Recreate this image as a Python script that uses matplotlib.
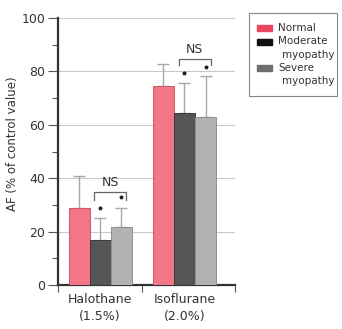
import matplotlib
matplotlib.use("Agg")
import matplotlib.pyplot as plt
import matplotlib.patches as mpatches
import numpy as np

# data
groups = ["Halothane\n(1.5%)", "Isoflurane\n(2.0%)"]
series = ["Normal", ["Moderate", "myopathy"], ["Severe", "myopathy"]]
normal = [28.7, 74.6]
moderate = [16.9, 64.4]
severe = [21.7, 63.0]
normal_err = [12.3, 8.1]
moderate_err = [8.3, 11.2]
severe_err = [7.3, 15.4]

BAR_COLORS = ["#f27686", "#555555", "#b2b2b2"]
BAR_EDGES = ["#c85866", "#3a3a3a", "#8e8e8e"]
LEG_COLORS = ["#e8465e", "#111111", "#6e6e6e"]
GRID = "#c8c8c8"
TEXT = "#333333"

W, H = 342, 329
fig = plt.figure(figsize=(W / 100, H / 100), dpi=100)
ax = fig.add_axes([58 / W, 1 - 285 / H, 177 / W, 267 / H])

x = np.arange(len(groups))
w = 0.25
vals = [normal, moderate, severe]
errs = [normal_err, moderate_err, severe_err]
for i in range(3):
    xs = x + (i - 1) * w
    ax.bar(xs, vals[i], width=w, color=BAR_COLORS[i], edgecolor=BAR_EDGES[i],
           linewidth=0.7, zorder=3)
    ax.errorbar(xs, vals[i], yerr=[np.zeros(2), errs[i]], fmt="none",
                ecolor="#a8a8a8", elinewidth=1.0, capsize=4, capthick=1.0,
                zorder=2)

# NS brackets and asterisks
for gi, (ytop, ylow) in enumerate([(35.0, 32.0), (84.6, 82.4)]):
    x0 = gi - 0.07
    x1 = gi + w + 0.06
    ax.plot([x0, x0, x1, x1], [ylow, ytop, ytop, ylow], color="#666666",
            lw=0.9, zorder=4, clip_on=False)
    ax.text((x0 + x1) / 2, ytop + 1.0, "NS", ha="center", va="bottom",
            fontsize=9, color=TEXT)
star_pos = [(0, 28.7, 33.0), (1, 79.4, 81.7)]
for gi, ym, ys in star_pos:
    ax.plot([gi, gi + w], [ym, ys], ls="none", marker="*", ms=2.6,
            color="#222222", zorder=5)

ax.set_ylim(0, 100)
ax.set_xlim(-0.5, 1.6)
ax.set_yticks(np.arange(0, 101, 20))
ax.set_yticks(np.arange(10, 100, 20), minor=True)
ax.tick_params(axis="y", which="major", length=7, width=0.8, color="#555555",
               labelsize=9, labelcolor=TEXT, pad=2)
ax.tick_params(axis="y", which="minor", length=4, width=0.8, color="#555555")
ax.set_xticks(x)
ax.set_xticklabels(groups, fontsize=9, color=TEXT, linespacing=1.35)
ax.tick_params(axis="x", which="major", length=0, pad=6)
ax.set_xticks([-0.5, 0.5, 1.6], minor=True)
ax.tick_params(axis="x", which="minor", length=5, width=0.8, color="#555555",
               direction="out")

ax.yaxis.grid(True, color=GRID, lw=0.8, zorder=0)
ax.set_axisbelow(True)
for s in ["top", "right"]:
    ax.spines[s].set_visible(False)
for s in ["left", "bottom"]:
    ax.spines[s].set_linewidth(1.6)
    ax.spines[s].set_color("#333333")

ax.set_ylabel("AF (% of control value)", fontsize=8.5, color=TEXT)
ax.yaxis.set_label_coords(-0.22, 0.53)

# legend drawn by hand to get the indented second lines
def fx(px):
    return px / W

def fy(py):
    return 1 - py / H

fig.patches.append(mpatches.Rectangle((fx(249), fy(96)), fx(88), 83 / H,
                                      transform=fig.transFigure, fill=False,
                                      edgecolor="#888888", lw=0.8))
rows = [28, 41.5, 68]
for (lab, col, yy) in zip(series, LEG_COLORS, rows):
    fig.patches.append(mpatches.Rectangle((fx(257), fy(yy + 3)), fx(15), 6 / H,
                                          transform=fig.transFigure,
                                          facecolor=col, edgecolor=col))
    if isinstance(lab, str):
        lab = [lab]
    fig.text(fx(278), fy(yy), lab[0], fontsize=7.5, color=TEXT, va="center")
    if len(lab) > 1:
        fig.text(fx(282), fy(yy + 13.5), lab[1], fontsize=7.5, color=TEXT,
                 va="center")

fig.savefig("out.png", dpi=100)
